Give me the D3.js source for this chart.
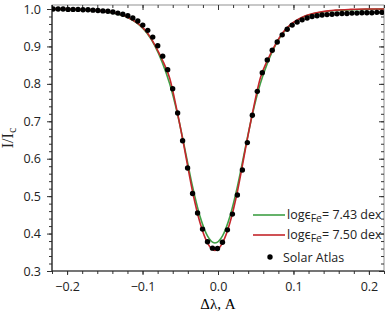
<!DOCTYPE html>
<html>
<head>
<meta charset="utf-8">
<script src="https://cdn.jsdelivr.net/npm/d3@7"></script>
<style>
  body { margin: 0; background: #fff; }
  text { font-family: "Open Sans", "Noto Sans", sans-serif; }
</style>
</head>
<body>
<svg width="386" height="312"></svg>
<script>
// model profiles (sampled), wavelength offset in A
let lineX = [-0.224, -0.204, -0.184, -0.164, -0.154, -0.144, -0.134, -0.124, -0.114, -0.104,
  -0.094, -0.084, -0.074, -0.064, -0.054, -0.044, -0.034, -0.024, -0.014, -0.004,
  0.006, 0.016, 0.026, 0.036, 0.046, 0.056, 0.066, 0.076, 0.086, 0.096,
  0.106, 0.116, 0.126, 0.136, 0.146, 0.156, 0.176, 0.196, 0.216, 0.226];
let fit743 = [1.0, 0.999, 0.998, 0.996, 0.994, 0.991, 0.987, 0.981, 0.971, 0.957,
  0.935, 0.903, 0.858, 0.80, 0.722, 0.627, 0.528, 0.447, 0.394, 0.375,
  0.394, 0.447, 0.528, 0.627, 0.722, 0.80, 0.858, 0.903, 0.935, 0.957,
  0.971, 0.981, 0.987, 0.991, 0.994, 0.996, 0.998, 0.999, 1.0, 1.0];
let fit750 = [1.0, 1.0, 0.999, 0.997, 0.995, 0.992, 0.988, 0.982, 0.972, 0.958,
  0.937, 0.905, 0.865, 0.815, 0.725, 0.622, 0.515, 0.43, 0.375, 0.355,
  0.375, 0.43, 0.515, 0.622, 0.725, 0.815, 0.865, 0.905, 0.937, 0.958,
  0.972, 0.982, 0.988, 0.992, 0.995, 0.997, 0.999, 1.0, 1.0, 1.0];

// solar atlas points
let atlasX = [-0.2185, -0.2119, -0.2053, -0.1987, -0.1921, -0.1855, -0.1789, -0.1723, -0.1657, -0.1591,
  -0.1525, -0.1459, -0.1393, -0.1327, -0.1261, -0.1195, -0.1129, -0.1063, -0.0997, -0.0931,
  -0.0865, -0.0799, -0.0733, -0.0667, -0.0601, -0.0535, -0.0469, -0.0403, -0.0337, -0.0271,
  -0.0205, -0.0139, -0.0073, -0.0007, 0.0059, 0.0125, 0.0191, 0.0257, 0.0323, 0.0389,
  0.0455, 0.0521, 0.0587, 0.0653, 0.0719, 0.0785, 0.0851, 0.0917, 0.0983, 0.1049,
  0.1115, 0.1181, 0.1247, 0.1313, 0.1379, 0.1445, 0.1511, 0.1577, 0.1643, 0.1709,
  0.1775, 0.1841, 0.1907, 0.1973, 0.2039, 0.2105, 0.2171];
let atlasY = [1.0, 1.0, 1.0, 0.999, 0.999, 0.999, 0.998, 0.998, 0.997, 0.996,
  0.995, 0.994, 0.992, 0.989, 0.986, 0.982, 0.976, 0.968, 0.957, 0.943,
  0.925, 0.902, 0.874, 0.838, 0.787, 0.722, 0.648, 0.575, 0.507, 0.455,
  0.412, 0.378, 0.361, 0.360, 0.377, 0.410, 0.452, 0.503, 0.570, 0.643,
  0.716, 0.780, 0.830, 0.864, 0.890, 0.912, 0.931, 0.946, 0.957, 0.965,
  0.971, 0.976, 0.980, 0.982, 0.984, 0.985, 0.986, 0.987, 0.988, 0.988,
  0.989, 0.989, 0.990, 0.990, 0.990, 0.991, 0.991];

let xTicks = [-0.2, -0.1, 0.0, 0.1, 0.2];
let yTicks = [0.3, 0.4, 0.5, 0.6, 0.7, 0.8, 0.9, 1.0];
let legendLabels = ["7.43", "7.50"];
let colors = ["#3f9f45", "#c4262b"];

let svg = d3.select("svg");
let mLeft = 52, mRight = 384, mTop = 5, mBottom = 271;

let x = d3.scaleLinear().domain([-0.22, 0.22]).range([mLeft, mRight]);
let y = d3.scaleLinear().domain([0.3, 1.0107]).range([mBottom, mTop]);

let xMinor = d3.range(-0.22, 0.2201, 0.02);
let yMinor = d3.range(0.3, 1.0001, 0.02);

svg.append("defs").append("clipPath").attr("id", "clip")
  .append("rect").attr("x", mLeft).attr("y", mTop).attr("width", mRight - mLeft).attr("height", mBottom - mTop);

// frame
svg.append("rect").attr("x", mLeft).attr("y", mTop).attr("width", mRight - mLeft).attr("height", mBottom - mTop)
  .attr("fill", "none").attr("stroke", "#777").attr("stroke-width", 0.8);

function styleAxis(g) {
  g.select(".domain").remove();
  g.selectAll("line").attr("stroke", "#333");
  g.selectAll("text").attr("fill", "#222").style("font-size", "12.5px");
}

// bottom
svg.append("g").attr("transform", "translate(0," + mBottom + ")")
  .call(d3.axisBottom(x).tickValues(xMinor).tickSize(3).tickFormat(""))
  .call(styleAxis);
svg.append("g").attr("transform", "translate(0," + mBottom + ")")
  .call(d3.axisBottom(x).tickValues(xTicks).tickSize(4).tickPadding(7).tickFormat(d3.format(".1f")))
  .call(styleAxis);
// top (inward)
svg.append("g").attr("transform", "translate(0," + mTop + ")")
  .call(d3.axisBottom(x).tickValues(xMinor).tickSize(3).tickFormat(""))
  .call(styleAxis);
svg.append("g").attr("transform", "translate(0," + mTop + ")")
  .call(d3.axisBottom(x).tickValues(xTicks).tickSize(5).tickFormat(""))
  .call(styleAxis);
// left
svg.append("g").attr("transform", "translate(" + mLeft + ",0)")
  .call(d3.axisLeft(y).tickValues(yMinor).tickSize(3).tickFormat(""))
  .call(styleAxis);
svg.append("g").attr("transform", "translate(" + mLeft + ",0)")
  .call(d3.axisLeft(y).tickValues(yTicks).tickSize(5).tickPadding(6).tickFormat(d3.format(".1f")))
  .call(styleAxis);
// right (inward)
svg.append("g").attr("transform", "translate(" + mRight + ",0)")
  .call(d3.axisLeft(y).tickValues(yMinor).tickSize(3).tickFormat(""))
  .call(styleAxis);
svg.append("g").attr("transform", "translate(" + mRight + ",0)")
  .call(d3.axisLeft(y).tickValues(yTicks).tickSize(5).tickFormat(""))
  .call(styleAxis);

// axes lines
svg.append("line").attr("x1", mLeft).attr("x2", mRight).attr("y1", mBottom).attr("y2", mBottom)
  .attr("stroke", "#222").attr("stroke-width", 1.2);
svg.append("line").attr("x1", mLeft).attr("x2", mLeft).attr("y1", mTop).attr("y2", mBottom)
  .attr("stroke", "#222").attr("stroke-width", 1.2);

// curves
let plot = svg.append("g").attr("clip-path", "url(#clip)");
let line = d3.line().curve(d3.curveMonotoneX);
[fit743, fit750].forEach(function (ser, i) {
  plot.append("path")
    .attr("d", line(lineX.map(function (v, j) { return [x(v), y(ser[j])]; })))
    .attr("fill", "none")
    .attr("stroke", colors[i])
    .attr("stroke-width", 1.6);
});

plot.selectAll("circle.atlas")
  .data(atlasX)
  .enter()
  .append("circle")
  .attr("class", "atlas")
  .attr("cx", function (d) { return x(d); })
  .attr("cy", function (d, i) { return y(atlasY[i]); })
  .attr("r", 2.7)
  .attr("fill", "#000");

// legend
let leg = svg.append("g");
legendLabels.forEach(function (lab, i) {
  let ly = 215 + i * 20;
  leg.append("line").attr("x1", 253).attr("x2", 285).attr("y1", ly).attr("y2", ly)
    .attr("stroke", colors[i]).attr("stroke-width", 1.6);
  let t = leg.append("text").attr("x", 287).attr("y", ly + 4).style("font-size", "12.5px").attr("fill", "#222");
  t.append("tspan").text("log\u03f5");
  t.append("tspan").attr("dy", 3).style("font-size", "10.5px").text("Fe");
  t.append("tspan").attr("dy", -3).text("= " + lab + " dex");
});
leg.append("circle").attr("cx", 270).attr("cy", 257).attr("r", 2.7).attr("fill", "#000");
leg.append("text").attr("x", 283).attr("y", 262).style("font-size", "12.5px").attr("fill", "#222").text("Solar Atlas");

// axis titles
svg.append("text").attr("x", 218).attr("y", 309).attr("text-anchor", "middle")
  .style("font-family", "'Liberation Serif', 'DejaVu Serif', serif").style("font-size", "15px")
  .text("\u0394\u03bb, A");
let yl = svg.append("text").attr("transform", "translate(13,138) rotate(-90)").attr("text-anchor", "middle")
  .style("font-family", "'Liberation Serif', 'DejaVu Serif', serif").style("font-size", "16px").attr("fill", "#222");
yl.append("tspan").text("I/I");
yl.append("tspan").attr("dy", 3).style("font-size", "12px").text("c");
</script>
</body>
</html>
